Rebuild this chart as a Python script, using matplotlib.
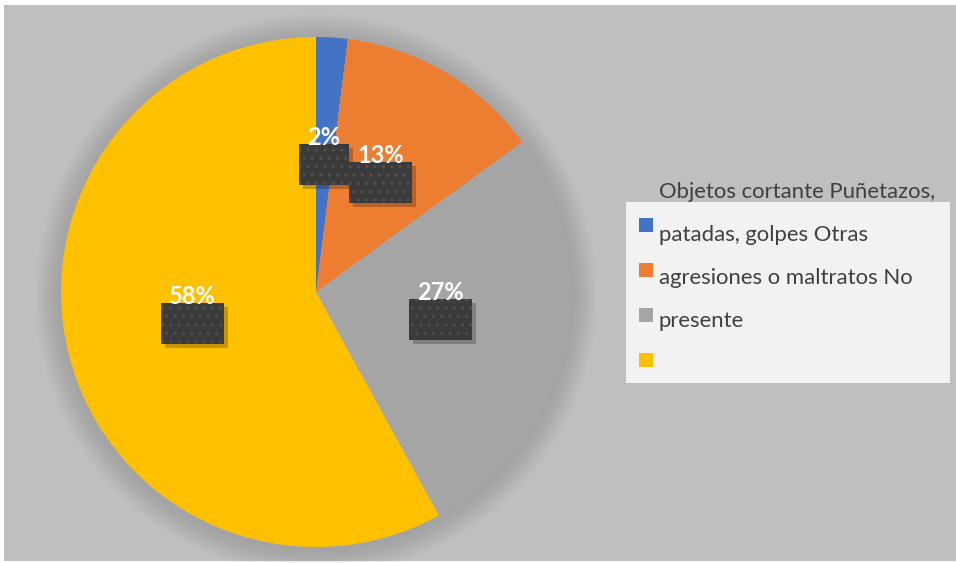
import numpy as np
import matplotlib.pyplot as plt
from matplotlib.patches import Rectangle, Circle

# Data
categories = ["Objetos cortantes", "Puñetazos, patadas, golpes",
              "Otras agresiones o maltratos", "No presente"]
values = [2, 13, 27, 58]
colors = ["#4472c4", "#ed7d31", "#a5a5a5", "#ffc000"]
legend_lines = ["Objetos cortante Puñetazos,", "patadas, golpes Otras",
                "agresiones o maltratos No", "presente", ""]

W, H = 956, 563
fig = plt.figure(figsize=(W / 100, H / 100), dpi=100, facecolor="white")

# Background panel (pixel coordinates)
bg = fig.add_axes([0, 0, 1, 1])
bg.set_xlim(0, W)
bg.set_ylim(H, 0)
bg.axis("off")
bg.add_patch(Rectangle((4, 5), W - 4, H - 7, facecolor="#bfbfbf", edgecolor="none", zorder=0))

# Pie axes: center (316, 292), radius 255 px
cx, cy, r = 316, 292, 255
ax = fig.add_axes([(cx - r) / W, (H - cy - r) / H, 2 * r / W, 2 * r / H])
ax.axis("off")

wedges, _ = ax.pie(values, colors=colors, startangle=90, counterclock=False,
                   radius=1.0, wedgeprops=dict(linewidth=0, zorder=2))

# soft shadow around the pie
for i in range(10):
    ax.add_patch(Circle((0.0, -0.01), 1.0 + 0.01 * (i + 1), facecolor="#000000",
                        alpha=0.012, edgecolor="none", zorder=0, clip_on=False))

ax.set_xlim(-1, 1)
ax.set_ylim(-1, 1)
ax.set_aspect("equal")

# Data labels: dark patterned box at half radius, white value text on top
px = 1.0 / r  # one pixel in data units
start = 90.0
for v in values:
    sweep = v / sum(values) * 360.0
    mid = np.deg2rad(start - sweep / 2)
    start -= sweep
    bx, by = 0.5 * np.cos(mid), 0.5 * np.sin(mid)
    label = f"{v}%"
    bw = (50 if len(label) == 2 else 63) * px
    bh = 41 * px
    ax.add_patch(Rectangle((bx - bw / 2 + 4 * px, by - bh / 2 - 4 * px), bw, bh,
                           facecolor="black", alpha=0.22, edgecolor="none", zorder=3))
    ax.add_patch(Rectangle((bx - bw / 2, by - bh / 2), bw, bh, facecolor="#3b3b3b",
                           edgecolor="#4f4f4f", hatch="..", linewidth=0, zorder=4))
    ax.text(bx, by + 27 * px, label, ha="center", va="center", color="white",
            fontsize=17, fontweight="bold", family="Lato", zorder=5)

# Legend panel
bg.add_patch(Rectangle((626, 202), 324, 181, facecolor="#f2f2f2", edgecolor="none", zorder=1))
line_y = [192, 235, 278, 321]
for y, txt in zip(line_y, legend_lines):
    bg.text(659, y, txt, ha="left", va="center", fontsize=15.9, family="Lato",
            color="#404040", zorder=2)
sq_y = [225, 270, 315, 360]
for y, c in zip(sq_y, colors):
    bg.add_patch(Rectangle((639, y - 7), 14, 14, facecolor=c, edgecolor="none", zorder=2))

fig.savefig("out.png", dpi=100, facecolor="white")
